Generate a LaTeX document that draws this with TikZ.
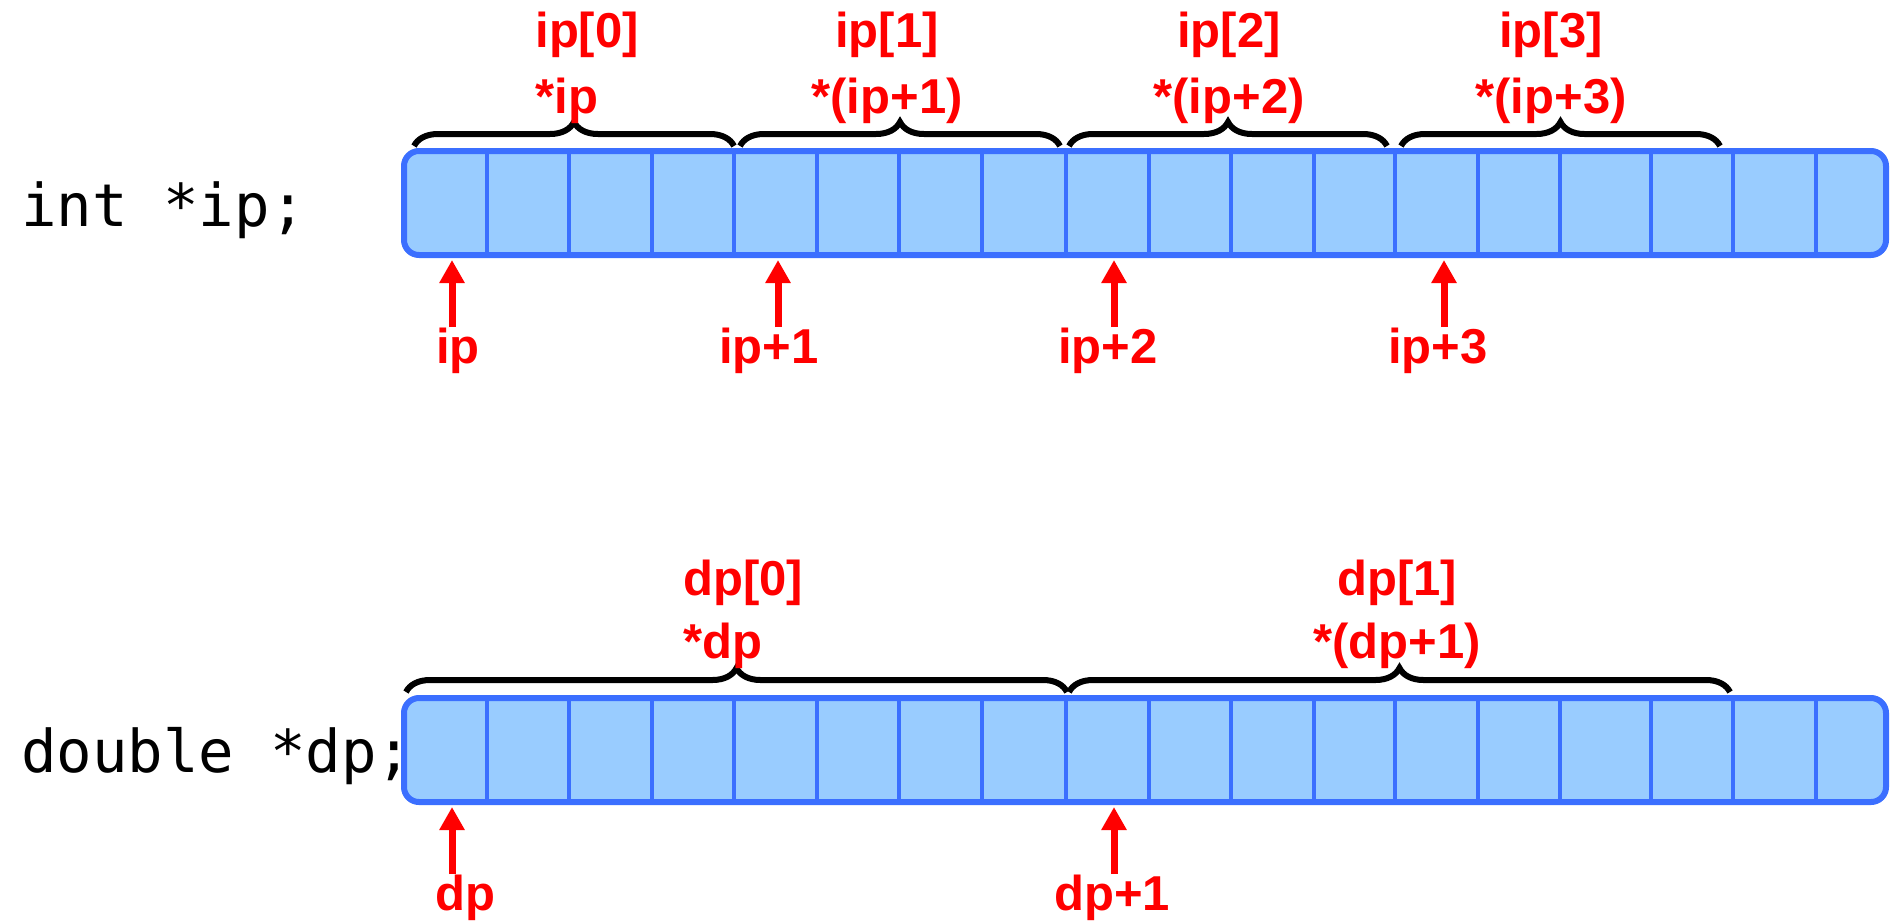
\documentclass[tikz,border=0pt]{standalone}
\usepackage{fontspec}
\newfontfamily\labfont{Liberation Sans}
\newfontfamily\codefont{DejaVu Sans Mono}
\usetikzlibrary{arrows.meta,decorations.pathreplacing}
\definecolor{cellfill}{RGB}{153,204,255}
\definecolor{cellline}{RGB}{59,111,255}
\definecolor{lblred}{RGB}{255,0,0}
\begin{document}
\begin{tikzpicture}[x=0.5pt,y=-0.5pt,
  arr/.style={draw=cellline, fill=cellfill, line width=3pt, rounded corners=7.5pt,
    minimum width=741pt, minimum height=52pt, inner sep=0pt},
  divider/.style={draw=cellline, line width=2pt},
  brc/.style={draw=black, line width=3pt, decorate, decoration={brace, amplitude=12pt}},
  lab/.style={text=lblred, font=\labfont\bfseries\fontsize{24.5}{29}\selectfont, inner sep=0pt},
  code/.style={font=\codefont\fontsize{29.5}{36}\selectfont, inner sep=0pt, anchor=base west},
  ptr/.style={draw=lblred, line width=3.5pt, -{Triangle[length=11.5pt,width=12pt]}}
]
\useasboundingbox (0,0) rectangle (1890,922);

% declarations
\node[code] (decl1) at (21,226) {int *ip;};
\node[code] (decl2) at (21,772) {double *dp;};

% arrays
\node[arr] (arrA) at (1145,203) {};
\node[arr] (arrB) at (1145,750) {};
\foreach \x in {487,569,652,734,817,899,982,1066,1149,1231,1314,1395,1478,1560,1651,1733,1816} {
  \draw[divider] (\x,151) -- (\x,255);
  \draw[divider] (\x,698) -- (\x,802);
}

% braces (int)
\draw[brc] (414,146) -- (734,146);
\draw[brc] (740,146) -- (1060,146);
\draw[brc] (1069,146) -- (1387,146);
\draw[brc] (1401,146) -- (1720,146);
% braces (double)
\draw[brc] (406,692) -- (1067,692);
\draw[brc] (1069,692) -- (1730,692);

% element labels (int)
\node[lab, anchor=base west] (ip0) at (535,47) {ip[0]};
\node[lab, anchor=base west] (sip0) at (535,113) {*ip};
\node[lab, anchor=base] (ip1) at (887,47) {ip[1]};
\node[lab, anchor=base] (sip1) at (887,113) {*(ip+1)};
\node[lab, anchor=base] (ip2) at (1229,47) {ip[2]};
\node[lab, anchor=base] (sip2) at (1229,113) {*(ip+2)};
\node[lab, anchor=base] (ip3) at (1551,47) {ip[3]};
\node[lab, anchor=base] (sip3) at (1551,113) {*(ip+3)};
% element labels (double)
\node[lab, anchor=base west] (dp0) at (683,595) {dp[0]};
\node[lab, anchor=base west] (sdp0) at (683,658) {*dp};
\node[lab, anchor=base] (dp1) at (1397,595) {dp[1]};
\node[lab, anchor=base] (sdp1) at (1397,658) {*(dp+1)};

% pointers (int)
\coordinate (pa0) at (452,260);
\coordinate (pa1) at (778,260);
\coordinate (pa2) at (1114,260);
\coordinate (pa3) at (1444,260);
\node[lab, anchor=base] (lip0) at (458,363) {ip};
\node[lab, anchor=base] (lip1) at (769,363) {ip+1};
\node[lab, anchor=base] (lip2) at (1108,363) {ip+2};
\node[lab, anchor=base] (lip3) at (1438,363) {ip+3};
\draw[ptr] (lip0.north -| pa0) -- (pa0);
\draw[ptr] (lip1.north -| pa1) -- (pa1);
\draw[ptr] (lip2.north -| pa2) -- (pa2);
\draw[ptr] (lip3.north -| pa3) -- (pa3);

% pointers (double)
\coordinate (pb0) at (452,807);
\coordinate (pb1) at (1114,807);
\node[lab, anchor=base] (ldp0) at (465,910) {dp};
\node[lab, anchor=base] (ldp1) at (1112,910) {dp+1};
\draw[ptr] (ldp0.north -| pb0) -- (pb0);
\draw[ptr] (ldp1.north -| pb1) -- (pb1);
\end{tikzpicture}
\end{document}
